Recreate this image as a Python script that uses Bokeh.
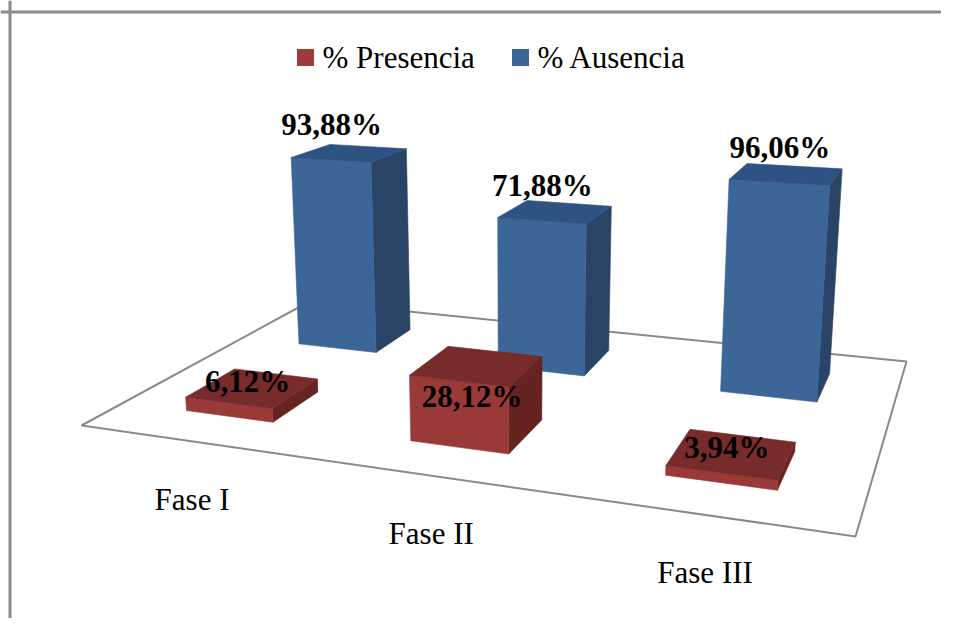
import numpy as np
from bokeh.plotting import figure
from bokeh.models import Range1d, Span
from bokeh.core.properties import value
from bokeh.embed import file_html
from bokeh.resources import INLINE

# ---------------- data ----------------
categories = ["Fase I", "Fase II", "Fase III"]
series_names = ["% Presencia", "% Ausencia"]
presencia = [6.12, 28.12, 3.94]
ausencia = [93.88, 71.88, 96.06]

# ---------------- styles ----------------
RED = dict(front="#9a3a38", top="#772b2b", side="#66231f", legend="#9e3c3a")
BLUE = dict(front="#3c6598", top="#2e5282", side="#294466", legend="#3c6598")
FONT = value("Liberation Serif")

# ---------------- 3-D view (perspective camera) ----------------
W, H = 941, 618
# screen position of the floor corners (X,Z) = (0,0), (3,0), (3,2), (0,2)
FLOOR_SCREEN = [(81, 425), (855, 536), (906, 361), (309, 301)]
FLOOR_WORLD = [(0, 0), (3, 0), (3, 2), (0, 2)]
VANISH = (515.0, 5500.0)     # vanishing point of the vertical direction
K_HEIGHT = -4.4e-4           # perspective height factor per value unit
BAR_W, BAR_D = 0.4, 0.4      # bar width / depth as share of a slot

A = []
bvec = []
for (X, Z), (u, v) in zip(FLOOR_WORLD, FLOOR_SCREEN):
    A.append([X, Z, 1, 0, 0, 0, -u * X, -u * Z]); bvec.append(u)
    A.append([0, 0, 0, X, Z, 1, -v * X, -v * Z]); bvec.append(v)
hh = np.linalg.solve(np.array(A, float), np.array(bvec, float))
HM = np.array([[hh[0], hh[1], hh[2]], [hh[3], hh[4], hh[5]], [hh[6], hh[7], 1.0]])


def proj(X, Y, Z):
    px = HM[0, 0] * X + HM[0, 1] * Z + HM[0, 2] + Y * K_HEIGHT * VANISH[0]
    py = HM[1, 0] * X + HM[1, 1] * Z + HM[1, 2] + Y * K_HEIGHT * VANISH[1]
    pw = HM[2, 0] * X + HM[2, 1] * Z + HM[2, 2] + Y * K_HEIGHT
    return px / pw, py / pw


def poly(pts):
    xy = [proj(*p) for p in pts]
    return [q[0] for q in xy], [q[1] for q in xy]


p = figure(width=W, height=H, x_range=Range1d(0, W), y_range=Range1d(H, 0),
           output_backend="svg", toolbar_location=None,
           x_axis_location=None, y_axis_location=None, min_border=0)
p.grid.visible = False
p.outline_line_color = None
p.background_fill_color = "white"

# chart border (left and top visible)
p.add_layout(Span(location=9.5, dimension="height", line_color="#8c8c8c", line_width=3))
p.add_layout(Span(location=11.5, dimension="width", line_color="#8c8c8c", line_width=3))

# floor
fx, fy = poly([(0, 0, 0), (3, 0, 0), (3, 0, 2), (0, 0, 2)])
p.patch(fx, fy, fill_color="white", line_color="#8a8a8a", line_width=2)

# bars: back row (Ausencia) first, then front row (Presencia)
rows = [(1, ausencia, BLUE), (0, presencia, RED)]
for j, vals, col in rows:
    for i, v in enumerate(vals):
        x0, x1 = i + 0.5 - BAR_W / 2, i + 0.5 + BAR_W / 2
        z0, z1 = j + 0.5 - BAR_D / 2, j + 0.5 + BAR_D / 2
        faces = [
            ([(x1, 0, z0), (x1, 0, z1), (x1, v, z1), (x1, v, z0)], col["side"]),
            ([(x0, 0, z0), (x1, 0, z0), (x1, v, z0), (x0, v, z0)], col["front"]),
            ([(x0, v, z0), (x1, v, z0), (x1, v, z1), (x0, v, z1)], col["top"]),
        ]
        for pts, c in faces:
            xs, ys = poly(pts)
            p.patch(xs, ys, fill_color=c, line_color=c, line_width=0.6)


def fmt(v):
    return f"{v:.2f}".replace(".", ",") + "%"


# data labels
LABEL_NUDGE_PRES = [0, 37, 0]
lx, ly, lt = [], [], []
for i, v in enumerate(ausencia):
    x, y = proj(i + 0.5, v, 1.5 - BAR_D / 2)
    lx.append(x + 1); ly.append(y - 35); lt.append(fmt(v))
for i, v in enumerate(presencia):
    x, y = proj(i + 0.5, v, 0.5)
    lx.append(x - 5); ly.append(y - 6 + LABEL_NUDGE_PRES[i]); lt.append(fmt(v))
p.text(lx, ly, text=lt, text_font=FONT, text_font_style="bold", text_font_size="31px",
       text_align="center", text_baseline="alphabetic", text_color="black")

# category labels under the front edge of the floor
cx, cy = [], []
for i, c in enumerate(categories):
    x, y = proj(i + 0.5, 0, 0)
    cx.append(x + 2); cy.append(y + 58)
p.text(cx, cy, text=categories, text_font=FONT, text_font_size="31px",
       text_align="center", text_baseline="alphabetic", text_color="black")

# legend
p.rect(x=[305, 520], y=[57, 57], width=17, height=17,
       fill_color=[RED["legend"], BLUE["legend"]], line_color=None)
p.text([322, 537], [57, 57], text=series_names, text_font=FONT, text_font_size="31px",
       text_align="left", text_baseline="alphabetic", text_color="black")

open("out.html", "w").write(file_html(p, INLINE))
